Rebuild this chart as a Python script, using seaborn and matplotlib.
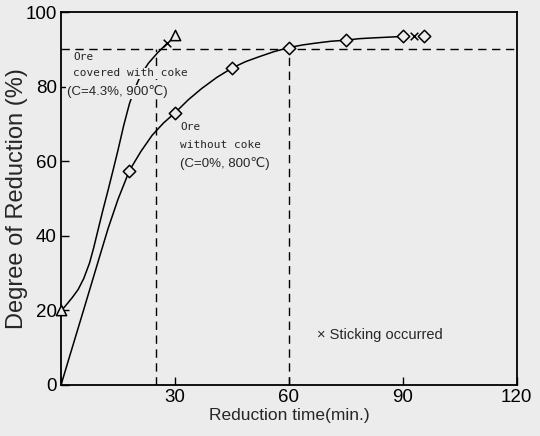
import numpy as np
import pandas as pd
import matplotlib
matplotlib.use("Agg")
import matplotlib.pyplot as plt
import seaborn as sns

# ── Data ───────────────────────────────────────────────────────
# ore without coke (C=0%, 800C): measured points
plain_time = [18, 30, 45, 60, 75, 90, 95.5]
plain_red = [57.5, 73, 85, 90.5, 92.5, 93.5, 93.5]
# drawn curve through them
plain_curve_time = [0, 2, 6, 10, 12.4, 15, 18, 21, 24, 27, 30, 33.5, 37, 41,
                    45, 48.5, 52, 56, 60, 63.5, 67, 71, 75, 78.5, 82, 86, 90]
plain_curve_red = [0, 6.8, 20.3, 33.9, 42, 49.8, 57.5, 62.6, 67, 70.3, 73,
                   76.5, 79.5, 82.5, 85, 86.7, 88, 89.4, 90.5, 91.2, 91.7,
                   92.2, 92.5, 92.9, 93.1, 93.3, 93.5]

# ore covered with coke (C=4.3%, 900C)
coke_time = [0, 30]
coke_red = [20, 94]
coke_curve_time = [0, 0.9, 1.8, 3, 4.5, 6, 7.5, 8.6, 9.7, 11, 12.4, 13.7, 15,
                   16.5, 18, 19.3, 20.5, 21.8, 23, 25.5, 28]
coke_curve_red = [20, 20.9, 22, 23.5, 25.6, 28.6, 32.7, 36.8, 41.4, 46.8, 52.3,
                  57.6, 63, 69.6, 75.4, 79.2, 82, 84.4, 86.3, 89.2, 91.7]

# sticking occurred
stick_time = [28, 93]
stick_red = [91.7, 93.5]

ref_level = 90
ref_times = [25, 60]

x_ticks = [0, 30, 60, 90, 120]
y_ticks = [0, 20, 40, 60, 80, 100]

BG = "#ececec"

sns.set_style("ticks")
plt.rcParams["font.family"] = ["Liberation Sans", "DejaVu Sans"]

fig = plt.figure(figsize=(5.4, 4.36), dpi=100, facecolor=BG)
ax = fig.add_axes([0.113, 0.117, 0.844, 0.855], facecolor=BG)

# ── Reference dashed lines ─────────────────────────────────────
ax.axhline(ref_level, color="black", lw=1.0, ls=(0, (6, 4)), zorder=1)
for t in ref_times:
    ax.plot([t, t], [0, ref_level], color="black", lw=1.0, ls=(0, (6, 4)), zorder=1)

# ── Curves ─────────────────────────────────────────────────────
sns.lineplot(x=plain_curve_time, y=plain_curve_red, ax=ax, color="black",
             lw=1.1, sort=False, estimator=None, zorder=2)
sns.lineplot(x=coke_curve_time, y=coke_curve_red, ax=ax, color="black",
             lw=1.1, sort=False, estimator=None, zorder=2)

# ── Markers ────────────────────────────────────────────────────
sns.scatterplot(x=plain_time, y=plain_red, ax=ax, marker="D", s=40,
                facecolor=BG, edgecolor="black", linewidth=1.1, zorder=4)
sns.scatterplot(x=coke_time, y=coke_red, ax=ax, marker="^", s=55,
                facecolor=BG, edgecolor="black", linewidth=1.1, zorder=4,
                clip_on=False)
sns.scatterplot(x=stick_time, y=stick_red, ax=ax, marker="x", s=30,
                color="black", linewidth=1.1, zorder=4)

# ── Annotations ────────────────────────────────────────────────
mono = ["DejaVu Sans Mono", "DejaVu Sans"]
box = dict(facecolor=BG, edgecolor="none", pad=0.5)
ax.text(3.2, 88, "Ore", fontsize=8, family=mono, va="center", zorder=5)
ax.text(3.2, 83.6, "covered with coke", fontsize=8, family=mono, va="center",
        bbox=box, zorder=5)
ax.text(1.6, 78.6, "(C=4.3%, 900\u2103)", fontsize=9.5, va="center",
        bbox=box, zorder=5)
ax.text(31.3, 69.2, "Ore", fontsize=8, family=mono, va="center", zorder=5)
ax.text(31.3, 64.3, "without coke", fontsize=8, family=mono, va="center", zorder=5)
ax.text(31.3, 59.3, "(C=0%, 800\u2103)", fontsize=9.5, va="center", zorder=5)
ax.text(67.5, 13.4, "\u00d7 Sticking occurred", fontsize=10.5, va="center", zorder=5)

# ── Axes ───────────────────────────────────────────────────────
ax.set_xlim(0, 120)
ax.set_ylim(0, 100)
ax.set_xticks(x_ticks)
ax.set_xticklabels([""] + [str(t) for t in x_ticks[1:]])
ax.set_yticks(y_ticks)
ax.tick_params(direction="in", length=6, width=1.0, labelsize=13.5, pad=3,
               colors="black")
for s in ax.spines.values():
    s.set_linewidth(1.3)
    s.set_color("black")
ax.set_xlabel("Reduction time(min.)", fontsize=12.5, labelpad=1)
ax.set_ylabel("Degree of Reduction (%)", fontsize=17)
ax.yaxis.set_label_coords(-0.073, 0.5)

fig.savefig("out.png", dpi=100, facecolor=BG)
